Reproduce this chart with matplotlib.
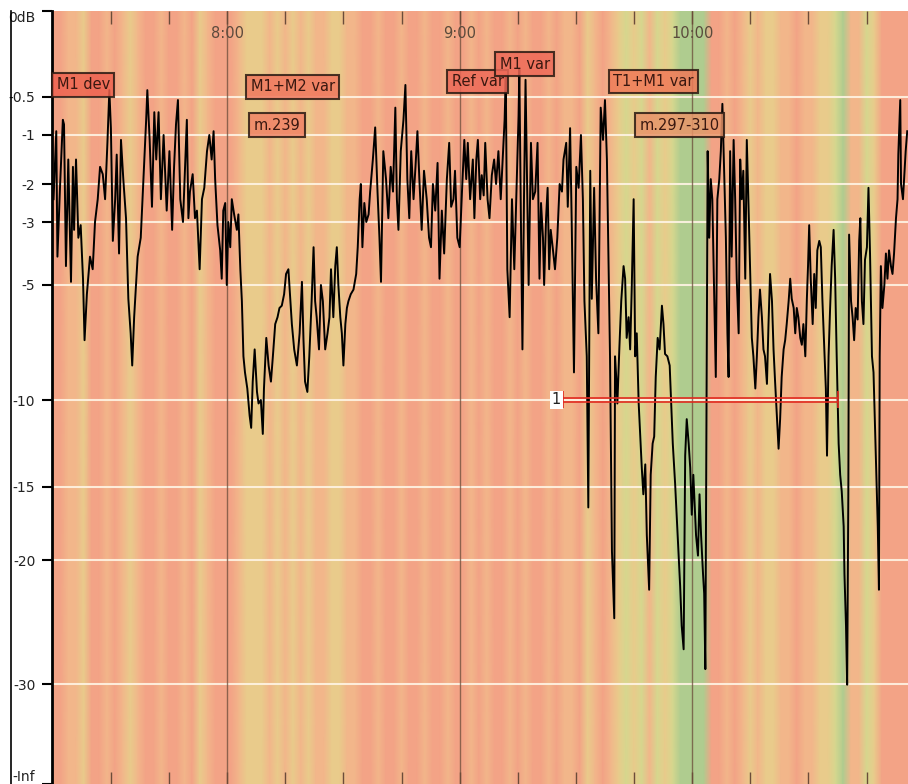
import numpy as np
import matplotlib.pyplot as plt
from matplotlib.colors import LinearSegmentedColormap
from matplotlib.lines import Line2D

# loudness trace: time in minutes after midnight, level in dB
t_min = [
    435.2, 435.9, 436.2, 436.9, 437.6, 437.9, 438.4, 439.0, 439.7, 440.2, 440.5, 441.0, 441.6, 442.2,
    442.8, 443.2, 443.8, 444.6, 445.3, 445.9, 446.6, 447.2, 447.9, 448.5, 449.1, 449.6, 450.0, 450.5,
    451.1, 451.5, 452.1, 452.6, 453.2, 453.9, 454.5, 455.1, 455.5, 456.0, 456.9, 457.7, 458.4, 459.1,
    459.4, 460.0, 460.6, 461.2, 461.7, 462.3, 462.9, 463.6, 464.4, 465.1, 465.8, 466.3, 466.8, 467.3,
    467.9, 468.6, 469.2, 469.6, 470.0, 470.4, 471.1, 471.7,
    472.2, 472.9, 473.5, 474.1, 474.8, 475.4, 476.0, 476.5, 476.9, 477.5, 478.2, 478.6, 479.0, 479.5,
    479.9, 480.3, 480.8, 481.2, 481.8, 482.5, 482.9, 483.4, 483.8, 484.2, 484.6, 485.2, 485.8, 486.2,
    486.6, 487.1, 487.7, 488.1, 488.7, 489.2, 489.5, 490.1, 490.7, 491.3, 491.8, 492.4, 493.0, 493.5,
    494.1, 494.7, 495.2, 495.8, 496.3, 496.7, 497.3, 498.0, 498.7, 499.3, 499.7, 500.1, 500.7, 501.2,
    501.8, 502.3, 502.7, 503.1, 503.7, 504.2, 504.7, 505.3, 505.9, 506.4, 506.8, 507.4,
    507.9, 508.3, 508.7, 509.2, 509.6, 510.0, 510.5, 510.9, 511.3, 511.9, 512.6, 513.3, 513.7, 514.2,
    514.5, 514.9, 515.4, 515.9, 516.5, 516.9, 517.6, 518.2, 518.8, 519.3, 519.7, 520.3, 521.0, 521.6,
    522.2, 522.8, 523.4, 523.8, 524.2, 524.8, 525.5, 526.0, 526.5, 527.0, 527.5, 528.1, 528.6, 529.1,
    529.6, 530.2, 530.8, 531.5, 532.1, 532.6, 533.1, 533.7, 534.3, 534.8, 535.4, 536.0, 536.7, 537.3,
    537.8, 538.4, 538.8, 539.4, 540.0, 540.6, 541.2, 541.7, 542.1, 542.7, 543.4, 543.8,
    544.3, 544.7, 545.3, 545.7, 546.2, 546.6, 547.2, 547.7, 548.3, 548.9, 549.4, 550.0, 550.6, 551.1,
    551.6, 551.9, 552.3, 552.9, 553.5, 554.1, 554.6, 555.2, 555.4, 555.8, 556.2, 556.6, 557.0, 557.3,
    557.8, 558.4, 558.9, 559.5, 560.1, 560.6, 561.0, 561.5, 561.8, 562.3, 562.7, 563.1, 563.5, 564.0,
    564.6, 565.2, 565.8, 566.4, 566.8, 567.5, 567.9, 568.5, 568.9, 569.5, 570.1, 570.7, 571.3, 571.8,
    572.2, 572.8, 573.2, 573.7, 574.1, 574.7, 575.2, 575.8, 576.4, 577.0, 577.5, 578.0, 578.4, 578.8,
    579.3, 579.9, 580.1, 580.4, 580.7, 581.2, 581.7, 582.3, 582.7, 583.1, 583.6, 584.0, 584.4, 584.9,
    585.3, 585.7, 586.2, 586.6, 587.0, 587.4, 587.9, 588.3, 588.9, 589.3, 589.8, 590.2, 590.6, 591.1,
    591.6, 592.2, 592.6, 593.0, 593.6, 594.2, 594.6, 595.0, 595.6, 596.0, 596.5, 596.9, 597.3, 597.8,
    598.2, 598.6, 599.1, 599.5, 599.9, 600.3, 601.0, 601.5, 601.9, 602.3, 602.8, 603.1, 603.4, 603.8,
    604.0, 604.4, 604.8, 605.2, 605.7, 606.1, 606.5, 607.0, 607.4, 607.8, 608.3, 608.7, 609.1, 609.4,
    609.8, 610.2, 610.7, 611.1, 611.5, 612.0, 612.4, 612.8, 613.2, 613.7, 614.1, 614.5, 615.0, 615.4,
    615.8,
    616.3, 616.7, 617.1, 617.5, 618.0, 618.4, 618.8, 619.3, 619.7, 620.1, 620.6, 621.0, 621.4, 621.9,
    622.3, 622.7, 623.1, 623.6, 624.0, 624.4, 624.9, 625.3, 625.7, 626.2, 626.6, 627.0, 627.4, 627.9,
    628.3, 628.7, 629.2, 629.6, 629.9, 630.2, 630.6, 631.1, 631.5, 631.9, 632.3, 632.8, 633.2, 633.6,
    634.1, 634.5, 634.8, 635.2, 635.6, 636.0, 636.5, 636.9, 637.3, 637.8, 638.2, 638.6, 639.1, 639.3,
    639.7, 640.0, 640.3, 640.5, 641.0, 641.4, 641.8, 642.2, 642.7, 643.1, 643.4, 643.8, 644.2, 644.6,
    645.1, 645.5, 645.9, 646.4, 646.8, 647.2, 647.7, 647.9, 648.2, 648.4, 648.7, 649.1, 649.6, 650.0,
    650.4, 650.8, 651.3, 651.7, 652.1, 652.6, 653.0, 653.2, 653.7, 653.9, 654.4, 654.8, 655.1, 655.5,
]
level_db = [
    -2.4, -0.95, -4.1, -2.0, -0.8, -0.86, -4.4, -1.5, -4.9, -1.65, -3.25, -1.5, -3.5, -3.1,
    -4.8, -7.4, -5.4, -4.1, -4.5, -3.0, -2.4, -1.65, -1.8, -2.4, -1.16, -0.46, -0.91, -3.6,
    -2.4, -1.4, -4.0, -1.1, -1.9, -2.9, -5.6, -7.1, -8.5, -6.4, -4.1, -3.5, -1.9, -0.8,
    -0.46, -1.1, -2.6, -0.7, -1.5, -0.7, -2.4, -1.0, -2.7, -1.33, -3.25, -1.65, -0.86, -0.54,
    -2.4, -3.0, -1.5, -0.8, -2.9, -2.2, -1.8, -2.9,
    -2.7, -4.5, -2.4, -2.1, -1.33, -1.0, -1.5, -0.95, -1.9, -3.1, -3.9, -4.8, -2.7, -2.5,
    -5.0, -3.0, -3.8, -2.4, -2.8, -3.25, -2.8, -4.5, -5.7, -8.1, -8.8, -9.5, -10.9, -11.6,
    -9.2, -7.8, -9.65, -10.2, -10.0, -11.95, -9.5, -7.3, -8.5, -9.2, -8.1, -6.7, -6.4, -6.0,
    -5.9, -5.4, -4.65, -4.5, -5.6, -6.7, -7.8, -8.5, -7.1, -4.9, -7.4, -9.2, -9.65, -8.1,
    -5.7, -3.8, -5.7, -6.4, -7.8, -5.0, -5.7, -7.8, -7.1, -6.4, -4.5, -6.4,
    -4.4, -3.8, -5.0, -6.4, -7.1, -8.5, -6.7, -6.0, -5.7, -5.4, -5.2, -4.65, -3.8, -2.4,
    -2.0, -3.8, -2.5, -3.0, -2.8, -2.2, -1.5, -0.9, -2.2, -3.5, -4.9, -1.33, -1.9, -2.9,
    -1.65, -2.2, -0.64, -2.4, -3.25, -1.33, -0.8, -0.43, -1.9, -2.9, -1.33, -2.4, -1.65, -0.95,
    -1.9, -3.25, -1.73, -2.4, -3.5, -3.8, -2.0, -2.7, -1.57, -4.8, -2.7, -4.0, -1.9, -1.16,
    -2.6, -2.4, -1.73, -3.5, -3.8, -2.2, -1.1, -1.9, -1.16, -2.4, -1.5, -2.9,
    -1.5, -1.1, -2.4, -1.82, -2.3, -1.16, -2.4, -2.9, -1.82, -1.5, -2.0, -1.33, -2.4, -1.5,
    -0.8, -0.38, -4.5, -6.4, -2.4, -4.5, -2.4, -0.75, -0.34, -2.9, -7.8, -2.4, -0.4, -1.5,
    -5.0, -1.16, -2.4, -2.2, -1.16, -4.8, -2.5, -3.5, -5.0, -2.9, -2.1, -4.5, -3.25, -3.8,
    -4.5, -3.5, -2.0, -2.2, -1.5, -1.16, -2.6, -0.91, -2.9, -8.8, -1.65, -2.1, -1.0, -2.4,
    -5.7, -8.1, -16.4, -1.73, -5.6, -2.1, -4.8, -7.1, -0.64, -1.1, -0.54, -1.5, -4.1, -8.1,
    -19.4, -24.7, -8.1, -9.0, -10.2, -7.8, -5.7, -4.4, -4.8, -7.3, -6.4, -7.8, -5.2, -2.4,
    -8.1, -7.1, -10.2, -12.1, -13.9, -15.5, -13.7, -18.3, -22.4, -14.3, -12.5, -12.1, -9.0, -7.3,
    -7.8, -5.9, -6.7, -8.0, -8.1, -8.5, -10.2, -12.5, -14.8, -16.9, -19.7, -22.1, -25.3, -27.2,
    -13.2, -11.1, -12.5, -13.9, -16.9, -14.3, -18.3, -19.7, -15.5, -18.3, -21.1, -22.7, -28.8, -6.7,
    -1.33, -3.5, -1.9, -2.4, -5.7, -9.0, -2.4, -1.9, -1.33, -0.59, -1.9, -3.5, -7.1, -9.0,
    -1.33, -4.1, -1.1, -2.4, -4.8, -7.1, -1.5, -2.4, -1.73, -4.8, -1.1, -2.4, -4.8, -7.3,
    -8.1,
    -9.5, -8.1, -6.4, -5.2, -6.4, -7.8, -8.1, -9.3, -6.7, -4.65, -5.7, -7.8, -9.2, -11.1,
    -12.8, -11.1, -9.0, -7.8, -7.4, -6.7, -5.7, -4.8, -5.6, -6.0, -7.1, -6.0, -6.4, -7.3,
    -7.6, -6.7, -8.1, -5.6, -4.4, -3.1, -4.8, -6.7, -4.65, -6.0, -3.9, -3.6, -3.8, -5.6,
    -7.8, -9.5, -13.2, -8.1, -6.0, -4.4, -3.25, -4.8, -8.1, -12.5, -14.3, -15.3, -17.7, -21.1,
    -25.3, -30.5, -15.5, -3.4, -5.7, -6.4, -7.4, -6.0, -6.5, -3.6, -2.9, -5.7, -6.7, -4.2,
    -3.8, -2.1, -4.0, -8.1, -8.8, -11.6, -15.5, -17.7, -22.4, -8.1, -4.4, -6.0, -5.0, -4.0,
    -4.8, -3.9, -4.4, -4.65, -4.0, -2.9, -2.4, -1.4, -0.54, -2.0, -2.4, -1.73, -1.33, -0.95,
]

# background colour class per 2-minute slot, first slot starts at 7:14
stripe_start = 434
stripe_step = 2
stripe_class = [
    0, 0, 1, 1, 2, 0, 0, 1, 0, 1, 2, 1, 0, 0, 1, 0, 0, 1, 0, 2,
    1, 0, 0, 0, 1, 2, 2, 2, 1, 2, 1, 2, 1, 2, 1, 1, 2, 2, 1, 1,
    0, 0, 1, 0, 0, 1, 0, 0, 1, 0, 0, 1, 0, 0, 1, 0, 1, 0, 0, 1,
    0, 1, 0, 0, 1, 0, 1, 1, 0, 2, 1, 0, 1, 2, 3, 2, 3, 1, 3, 2,
    3, 4, 4, 4, 4, 0, 0, 1, 0, 1, 2, 1, 2, 2, 1, 1, 0, 1, 1, 2,
    2, 3, 4, 1, 1, 3, 2, 0, 0, 0, 0,
]
stripe_colors = ['#f3a386', '#f2b68a', '#e9cb8b', '#d6d78e', '#afcc8f']

# y axis: dB value and its height in pixels above the bottom edge
db_ref = [-100, -30, -20, -15, -10, -5, -3, -2, -1, -0.5, 0]
px_ref = [0, 100, 224, 297, 384, 499, 562, 600, 649, 687, 773]
db_ticks = [0, -0.5, -1, -2, -3, -5, -10, -15, -20, -30, -100]
db_labels = ['0dB', '-0.5', '-1', '-2', '-3', '-5', '-10', '-15', '-20', '-30', '-Inf']

hours = [480, 540, 600]
hour_labels = ['8:00', '9:00', '10:00']

# markers placed on the timeline
note_text = ['M1 dev', 'M1+M2 var', 'm.239', 'Ref var', 'M1 var', 'T1+M1 var', 'm.297-310']
note_time = [435.1, 485.2, 485.9, 537.0, 549.4, 578.8, 585.5]
note_db = [-0.43, -0.44, -0.87, -0.41, -0.31, -0.41, -0.87]
note_color = ['#ee6250', '#f0785e', '#f08466', '#ee6a58', '#ee6a58', '#f07a58', '#e8956a']

# loop region "1"
region_start = 566.7
region_end = 637.7
region_db = -10


def fwd(v):
    return np.interp(v, db_ref, px_ref)


def inv(p):
    return np.interp(p, px_ref, db_ref)


fig = plt.figure(figsize=(9.08, 7.84), dpi=100)
ax = fig.add_axes([52 / 908, 0, 856 / 908, 773 / 784])
ax.set_yscale('function', functions=(fwd, inv))

# soft-edged colour stripes
n = len(stripe_class)
centers = stripe_start + stripe_step * (np.arange(n) + 0.5)
xs = np.concatenate([[stripe_start], centers, [stripe_start + stripe_step * n]])
cs = np.array([stripe_class[0]] + stripe_class + [stripe_class[-1]], dtype=float)
cmap = LinearSegmentedColormap.from_list('bg', stripe_colors)
ax.pcolormesh(xs, [-100, 0], np.vstack([cs, cs]), cmap=cmap, vmin=0, vmax=4,
              shading='gouraud', zorder=0)

for d in db_ticks[1:-1]:
    ax.axhline(d, color='#fff4e4', lw=1.5, alpha=0.9, zorder=1)
for h in hours:
    ax.axvline(h, color='#6b4c3a', lw=1, alpha=0.75, zorder=1)

ax.plot(t_min, level_db, color='black', lw=1.4, zorder=3)

# region marker
for d in (-9.9, -10.12):
    ax.hlines(d, region_start, region_end, color='#e02a20', lw=1.2, zorder=4)
ax.vlines([region_start, region_end], -9.6, -10.45, color='#e02a20', lw=1.2, zorder=4)
ax.text(region_start - 0.6, region_db, '1', ha='right', va='center', fontsize=10.5, color='#222',
        bbox=dict(boxstyle='square,pad=0.12', fc='white', ec='none'), zorder=5)

for txt, tt, dd, fc in zip(note_text, note_time, note_db, note_color):
    ax.text(tt + 0.9, dd, txt, ha='left', va='center', fontsize=10.5, color='#3a1810',
            bbox=dict(boxstyle='square,pad=0.3', fc=fc, ec='#2a1a12', lw=1.5, alpha=0.85), zorder=6)

for h, lab in zip(hours, hour_labels):
    ax.text(h, 0.971, lab, transform=ax.get_xaxis_transform(), ha='center', va='center',
            fontsize=10.5, color='#5b4a3c', zorder=2)

ax.set_xlim(434.8, 655.7)
ax.set_ylim(-100, 0)
ax.set_xticks(hours)
ax.set_xticks(np.arange(450, 656, 15), minor=True)
ax.tick_params(axis='x', which='both', direction='in', top=True, bottom=True, length=9,
               color='#6b4c3a', width=1, labelbottom=False)
ax.set_yticks(db_ticks)
ax.set_yticklabels(db_labels)
ax.yaxis.set_minor_locator(plt.NullLocator())
ax.tick_params(axis='y', direction='out', length=7, width=1.5, pad=5, labelsize=10, labelcolor='#222')
ylabels = ax.get_yticklabels()
ylabels[0].set_va('top')
ylabels[-1].set_va('bottom')

for side in ('top', 'right', 'bottom'):
    ax.spines[side].set_visible(False)
ax.spines['left'].set_linewidth(2)

fig.add_artist(Line2D([11 / 908, 11 / 908], [0, 773 / 784], color='black', lw=1.2))

fig.savefig('out.png', dpi=100)
